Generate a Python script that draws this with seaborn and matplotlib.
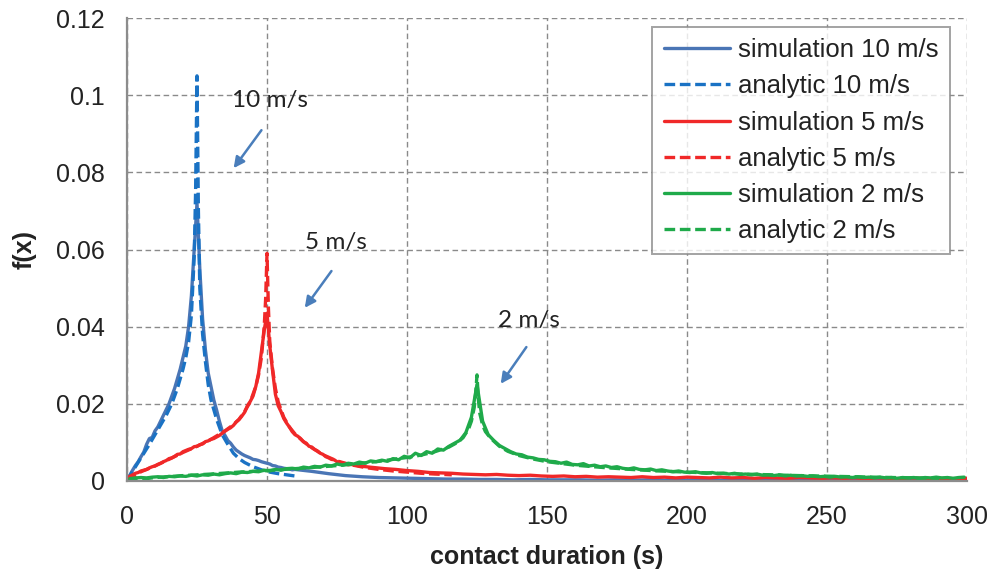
import numpy as np
import pandas as pd
import matplotlib
matplotlib.use("Agg")
import matplotlib.pyplot as plt
import seaborn as sns

# ---------------- data (values in units of 1e-3) ----------------
# simulation 10 m/s : 1 s steps 0..60, then 6 s steps 66..300
sim10_head = [0.5, 1.5, 2.8, 4.0, 5.0, 6.3, 7.5, 9.5, 11.0, 11.3,
              13.0, 14.0, 15.5, 17.0, 18.5, 20.0, 22.0, 24.0, 26.5, 29.0,
              32.0, 35.0, 40.0, 48.0, 60.0, 72.0, 55.0, 42.0, 34.0, 28.0,
              24.5, 21.0, 18.4, 15.5, 13.0, 11.8, 10.5, 9.8, 8.8, 8.0,
              7.5, 7.0, 6.6, 6.3, 6.0, 5.6, 5.5, 5.3, 5.0, 4.8,
              4.6, 4.4, 4.0, 3.9, 3.6, 3.5, 3.3, 3.2, 3.1, 2.9, 3.0]
sim10_tail = [2.5, 1.9, 1.4, 1.1, 0.9, 0.8, 0.7, 0.6, 0.5, 0.5,
              0.4, 0.4, 0.3, 0.4, 0.3, 0.3, 0.3, 0.2, 0.3, 0.2,
              0.3, 0.2, 0.2, 0.3, 0.2, 0.2, 0.2, 0.2, 0.3, 0.2,
              0.2, 0.2, 0.2, 0.2, 0.2, 0.2, 0.2, 0.2, 0.2, 0.2]

ana10_x = [0, 2, 5, 8, 10, 12, 14, 16, 18, 20,
           21, 22, 23, 24, 24.5, 25, 25.5, 26, 27, 28,
           29, 30, 32, 34, 36, 38, 40, 42, 45, 48,
           51, 54, 57, 60]
ana10_y = [0, 2.5, 6, 9.5, 12, 14.5, 17, 20, 24, 29,
           32, 36, 43, 58, 75, 105, 70, 50, 38, 31,
           25, 21, 16, 12, 9.5, 7.2, 5.8, 4.8, 3.7, 2.9,
           2.3, 1.9, 1.6, 1.3]

# simulation 5 m/s : 1 s steps 0..80, then 4 s steps 84..300
sim5_head = [0.8, 1.2, 1.6, 2.0, 2.2, 2.6, 2.8, 3.0, 3.4, 3.7,
             3.9, 4.3, 4.6, 5.0, 5.3, 5.8, 6.0, 6.4, 6.9, 7.0,
             7.6, 7.9, 8.2, 8.4, 8.9, 9.0, 9.4, 9.6, 10.2, 10.4,
             10.8, 11.0, 11.4, 11.8, 12.4, 12.9, 13.4, 13.8, 14.4, 15.3,
             15.9, 16.8, 17.8, 19.5, 20.6, 22.0, 24.5, 28.0, 33.5, 39.0,
             43.5, 35.0, 28.5, 22.5, 19.5, 18.0, 16.2, 15.0, 14.0, 12.8,
             12.0, 11.6, 11.0, 10.2, 9.8, 9.0, 8.8, 8.2, 7.8, 7.2,
             6.9, 6.3, 6.0, 5.6, 5.5, 5.0, 4.9, 4.6, 4.5, 4.2, 4.3]
sim5_tail = [3.8, 3.5, 3.2, 3.0, 2.7, 2.5, 2.2, 2.1, 2.0, 1.8,
             1.7, 1.6, 1.7, 1.5, 1.4, 1.5, 1.3, 1.2, 1.3, 1.1,
             1.2, 1.0, 1.1, 1.0, 0.9, 1.1, 0.9, 1.0, 0.8, 1.0,
             0.9, 0.8, 1.0, 0.8, 0.9, 0.7, 0.9, 0.8, 0.7, 0.9,
             0.8, 0.7, 0.8, 0.7, 0.8, 0.6, 0.8, 0.7, 0.6, 0.8,
             0.7, 0.6, 0.7, 0.6, 0.7]

ana5_x = [0, 5, 10, 15, 20, 25, 30, 35, 38, 40,
          42, 44, 46, 47, 48, 49, 49.5, 50, 50.5, 51,
          52, 53, 54, 56, 58, 60, 63, 66, 70, 75,
          80, 85, 90, 95, 100, 105, 110, 116]
ana5_y = [0, 2.4, 3.9, 5.6, 7.4, 9.0, 10.8, 13.0, 14.6, 16.0,
          18.0, 20.5, 24.5, 27.5, 32, 40, 47, 59, 45, 36,
          29, 24, 20.5, 16.5, 14, 12.2, 10.2, 8.6, 6.8, 5.2,
          4.2, 3.5, 3.0, 2.6, 2.3, 2.0, 1.8, 1.6]

# simulation 2 m/s : odd seconds 1..299
sim2_y = [0.6, 0.8, 0.9, 0.8, 1.0, 1.1, 0.9, 1.2, 1.1, 1.3,
          1.2, 1.5, 1.3, 1.6, 1.5, 1.8, 1.6, 1.9, 2.1, 1.9,
          2.3, 2.2, 2.5, 2.4, 2.8, 2.6, 3.0, 2.8, 3.2, 3.3,
          3.1, 3.6, 3.4, 3.8, 3.6, 4.1, 3.9, 4.4, 4.1, 4.6,
          4.4, 4.9, 4.6, 5.2, 5.0, 5.4, 5.1, 5.8, 5.5, 6.4,
          6.0, 7.2, 6.6, 7.6, 7.2, 8.3, 8.0, 9.0, 9.8, 10.6,
          12.5, 16.5, 25.0, 15.5, 12.0, 10.5, 9.2, 8.4, 7.6, 7.0,
          6.8, 6.2, 6.0, 5.6, 5.5, 5.1, 5.0, 4.6, 4.9, 4.3,
          4.2, 4.5, 3.9, 4.1, 3.7, 3.9, 3.5, 3.7, 3.3, 3.1,
          3.4, 3.0, 2.9, 3.1, 2.7, 2.9, 2.6, 2.4, 2.6, 2.3,
          2.2, 2.4, 2.1, 2.0, 2.2, 1.9, 2.0, 1.8, 2.0, 1.7,
          1.8, 1.6, 1.8, 1.5, 1.6, 1.4, 1.6, 1.3, 1.5, 1.3,
          1.4, 1.2, 1.3, 1.1, 1.2, 1.0, 1.2, 1.0, 1.1, 0.9,
          1.1, 0.9, 1.0, 0.8, 1.0, 0.8, 0.9, 0.7, 0.9, 0.8,
          0.9, 0.7, 0.9, 0.8, 1.0, 0.8, 0.9, 0.7, 0.9, 1.0]

ana2_x = [0, 10, 20, 30, 40, 50, 60, 70, 80, 90,
          100, 105, 110, 115, 118, 120, 122, 123, 124, 124.5,
          125, 125.5, 126, 127, 128, 130, 133, 136, 140, 145,
          150, 160, 170, 180, 190, 200, 220, 240, 260, 280, 290]
ana2_y = [0, 0.9, 1.4, 1.8, 2.3, 2.7, 3.2, 3.7, 4.3, 5.1,
          6.1, 6.7, 7.6, 8.8, 10.0, 11.2, 13.5, 15.5, 19, 22.5,
          27.5, 21, 17.5, 14.5, 12.8, 11.0, 9.0, 7.7, 6.6, 5.7,
          5.0, 4.1, 3.5, 3.0, 2.6, 2.3, 1.8, 1.4, 1.1, 0.8, 0.7]

labels = ["simulation 10 m/s", "analytic 10 m/s",
          "simulation 5 m/s", "analytic 5 m/s",
          "simulation 2 m/s", "analytic 2 m/s"]
x_ticks = [0, 50, 100, 150, 200, 250, 300]
y_ticks = [0, 0.02, 0.04, 0.06, 0.08, 0.1, 0.12]
annots = [("10 m/s", 51, 0.0985, (48.6, 0.0915), (37.5, 0.0805)),
          ("5 m/s", 74.5, 0.0617, (73.6, 0.0550), (62.9, 0.0443)),
          ("2 m/s", 143.5, 0.0417, (143.2, 0.0353), (132.9, 0.0246))]

# ---------------- assemble ----------------
sim10_x = np.concatenate([np.arange(0, 61), np.arange(66, 301, 6)])
sim10 = np.array(sim10_head + sim10_tail) / 1000
sim5_x = np.concatenate([np.arange(0, 81), np.arange(84, 301, 4)])
sim5 = np.array(sim5_head + sim5_tail) / 1000
sim2_x = np.arange(1, 300, 2)
sim2 = np.array(sim2_y) / 1000
assert len(sim10_x) == len(sim10) and len(sim5_x) == len(sim5) and len(sim2_x) == len(sim2)

dash = (0, (3.2, 1.4))
series = [
    (sim10_x, sim10, "#4a75b5", "-"),
    (np.array(ana10_x), np.array(ana10_y) / 1000, "#1a72c4", dash),
    (sim5_x, sim5, "#f02828", "-"),
    (np.array(ana5_x), np.array(ana5_y) / 1000, "#f02828", dash),
    (sim2_x, sim2, "#1faa4a", "-"),
    (np.array(ana2_x), np.array(ana2_y) / 1000, "#1faa4a", dash),
]

sns.set_style("white")
plt.rcParams["font.family"] = ["Liberation Sans", "DejaVu Sans"]

fig, ax = plt.subplots(figsize=(9.91, 5.78), dpi=100)
fig.subplots_adjust(left=127 / 991, right=967 / 991, top=1 - 18 / 578, bottom=1 - 481 / 578)

for (xs, ys, col, ls), lab in zip(series, labels):
    df = pd.DataFrame({"x": xs, "y": ys})
    sns.lineplot(data=df, x="x", y="y", ax=ax, color=col, linewidth=2.4,
                 linestyle=ls, label=lab, estimator=None, sort=False)

ax.set_xlim(0, 300)
ax.set_ylim(0, 0.12)
ax.set_xticks(x_ticks)
ax.set_yticks(y_ticks)
ax.set_yticklabels([f"{v:g}" for v in y_ticks])
ax.tick_params(axis="both", labelsize=18, colors="#8c8c8c", labelcolor="#222222",
               length=6, width=1.2, direction="out")
ax.tick_params(axis="x", pad=11)
ax.tick_params(axis="y", pad=10)
ax.grid(True, color="#8a8a8a", linestyle=(0, (4, 2.5)), linewidth=1.0)
ax.set_axisbelow(True)
for s in ["top", "right"]:
    ax.spines[s].set_visible(False)
for s in ["left", "bottom"]:
    ax.spines[s].set_color("#8c8c8c")
    ax.spines[s].set_linewidth(1.6)

ax.set_xlabel("contact duration (s)", fontsize=18, fontweight="bold", color="#222222", labelpad=12)
ax.set_ylabel("f(x)", fontsize=18, fontweight="bold", color="#222222", labelpad=14)

for txt, tx, ty, start, end in annots:
    ax.text(tx, ty, txt, fontsize=17.5, family=["Lato", "DejaVu Sans"], color="#222222",
            ha="center", va="center")
    ax.annotate("", xy=end, xytext=start,
                arrowprops=dict(arrowstyle="-|>", color="#4a7ebb", lw=1.8, mutation_scale=16))

leg = ax.legend(loc="upper right", bbox_to_anchor=(0.98, 0.981), borderaxespad=0,
                fontsize=18.5, frameon=True, fancybox=False, handlelength=2.6,
                handletextpad=0.3, labelspacing=0.47, borderpad=0.45)
leg.get_frame().set_edgecolor("#8c8c8c")
leg.get_frame().set_linewidth(1.4)
for t in leg.get_texts():
    t.set_color("#222222")

fig.savefig("out.png", dpi=100)
